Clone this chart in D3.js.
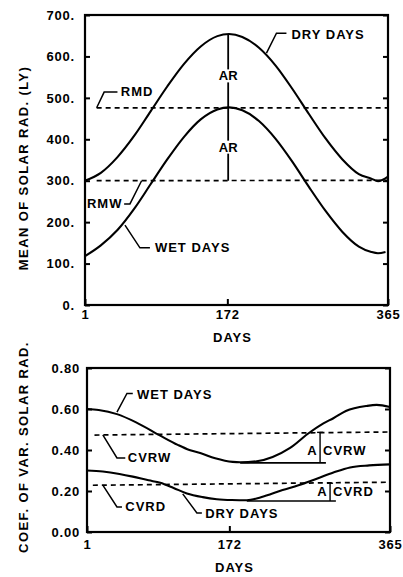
<!DOCTYPE html>
<html><head><meta charset="utf-8">
<script src="https://cdn.jsdelivr.net/npm/d3@7"></script>
<style>
body{margin:0;background:#fff}
svg text{font-family:"Liberation Sans",Arial,Helvetica,sans-serif;font-weight:bold;fill:#000}
</style></head><body>
<svg id="c" width="403" height="577"></svg>
<script>
// ---------- DATA ----------
// Top panel: mean daily solar radiation (langleys)
const topDryDays = [1,20,40,60,80,100,120,140,160,174,190,210,230,250,270,290,310,330,345,353,365];
const topDryMean = [300,319,357,408,468,528,582,624,649,654,647,621,578,522,461,402,352,316,305,299,310];
const topWetDays = [1,20,40,60,80,100,120,140,160,174,190,210,230,250,270,290,310,330,345,353,362];
const topWetMean = [118,144,181,232,292,352,406,448,472,477,470,444,401,346,285,227,177,141,128,125,128];
const rmdDays = [15,365], rmdVals = [476,476];
const rmwDays = [15,365], rmwVals = [300,301];
const arDay = 173;
const topYTicks = [0,100,200,300,400,500,600,700];
const topYLabels = ["0.","100.","200.","300.","400.","500.","600.","700."];
const xTicks = [1,172,365];
const xLabels = ["1","172","365"];

// Bottom panel: coefficient of variation of solar radiation
const cvWetDays = [1,15,37,60,89,110,124,137,155,176,185,205,224,245,266,285,297,312,337,349,365];
const cvWet     = [0.60,0.595,0.575,0.535,0.47,0.425,0.40,0.385,0.36,0.342,0.34,0.345,0.366,0.41,0.478,0.53,0.555,0.59,0.615,0.62,0.61];
const cvDryDays = [1,20,40,56,75,89,105,121,140,157,175,193,210,236,255,277,297,317,340,365];
const cvDry     = [0.30,0.295,0.283,0.27,0.252,0.24,0.215,0.188,0.17,0.16,0.156,0.155,0.17,0.205,0.228,0.26,0.29,0.315,0.325,0.33];
const cvrwDays = [10,365], cvrwVals = [0.473,0.488];
const cvrdDays = [8,365],  cvrdVals = [0.228,0.243];
const botYTicks = [0,0.2,0.4,0.6,0.8];
const botYLabels = ["0.00","0.20","0.40","0.60","0.80"];

// Annotation leaders (data units: [day, value])
const topNotes = [
  {label:"DRY DAYS", pts:[[219,608],[231,656],[243,656]], at:[249,652], anchor:"start"},
  {label:"RMD", pts:[[15,476],[24,514],[40,514]], at:[44,516], anchor:"start"},
  {label:"RMW", pts:[[69,300],[55,244],[48,244]], at:[46,246], anchor:"end"},
  {label:"WET DAYS", pts:[[49,193],[67,138],[79,138]], at:[85,138], anchor:"start"}
];
const botNotes = [
  {label:"WET DAYS", pts:[[37,0.585],[49,0.676],[56,0.676]], at:[61,0.672], anchor:"start"},
  {label:"CVRW", pts:[[20,0.474],[37,0.361],[47,0.361]], at:[50,0.361], anchor:"start"},
  {label:"CVRD", pts:[[20,0.229],[37,0.122],[43,0.122]], at:[47,0.122], anchor:"start"},
  {label:"DRY DAYS", pts:[[116,0.186],[133,0.093],[139,0.093]], at:[143,0.09], anchor:"start"}
];
const ampW = {from:185, to:288, low:0.337, barDay:281, hi:0.486, label:["A","CVRW"], at:[281,0.40]};
const ampD = {from:193, to:300, low:0.151, barDay:293, hi:0.238, label:["A","CVRD"], at:[293,0.20]};

// ---------- DRAW ----------
const svg = d3.select("#c");
svg.append("rect").attr("width",403).attr("height",577).attr("fill","#fff");

function panel(cfg){
  const {x,y} = cfg;
  const g = svg.append("g");
  const [x0,x1] = x.range(), [y0,y1] = y.range();
  const ax = d3.axisLeft(y).tickValues(cfg.yTicks).tickFormat((d,i)=>cfg.yLabels[i])
     .tickSizeInner(-5).tickSizeOuter(0).tickPadding(cfg.yPad);
  const gl = g.append("g").attr("transform",`translate(${x0},0)`).call(ax);
  const ar = d3.axisRight(y).tickValues(cfg.yTicks).tickFormat("").tickSizeInner(-5).tickSizeOuter(0);
  const gr = g.append("g").attr("transform",`translate(${x1},0)`).call(ar);
  const abx = d3.axisBottom(x).tickValues(xTicks).tickFormat((d,i)=>xLabels[i])
     .tickSizeInner(-6).tickSizeOuter(0).tickPadding(cfg.xPad);
  const gb = g.append("g").attr("transform",`translate(0,${y0})`).call(abx);
  [gl,gr,gb].forEach(a=>{
    a.select(".domain").remove();
    a.selectAll("line").attr("stroke","#000").attr("stroke-width",2);
    a.selectAll("text").attr("font-size",13).attr("letter-spacing",0.8)
      .style("font-family",'"Liberation Sans",Arial,sans-serif').style("font-weight","bold").attr("fill","#000");
  });
  g.append("rect").attr("x",x0).attr("y",y1).attr("width",x1-x0).attr("height",y0-y1)
   .attr("fill","none").attr("stroke","#000").attr("stroke-width",2.2);
  g.append("text").attr("x",(x0+x1)/2 - 4).attr("y",cfg.daysY)
   .attr("text-anchor","middle").attr("dominant-baseline","central")
   .attr("font-size",13).attr("letter-spacing",1).text("DAYS");
  g.append("text").attr("transform",`translate(${cfg.titleX},${cfg.titleY}) rotate(-90)`)
   .attr("text-anchor","middle").attr("dominant-baseline","central")
   .attr("font-size",13).attr("letter-spacing",1.4).text(cfg.title);
  return g;
}

function curve(g,x,y,days,vals,dashed){
  const line = d3.line().x(d=>x(d[0])).y(d=>y(d[1])).curve(dashed?d3.curveLinear:d3.curveMonotoneX);
  g.append("path").datum(days.map((d,i)=>[d,vals[i]])).attr("d",line)
   .attr("fill","none").attr("stroke","#000")
   .attr("stroke-width",dashed?1.7:2.1)
   .attr("stroke-dasharray",dashed?"5,4":null);
}

function notes(g,x,y,list){
  const line = d3.line().x(d=>x(d[0])).y(d=>y(d[1]));
  list.forEach(n=>{
    g.append("path").attr("d",line(n.pts)).attr("fill","none").attr("stroke","#000").attr("stroke-width",1.5);
    g.append("text").attr("x",x(n.at[0])).attr("y",y(n.at[1])).attr("text-anchor",n.anchor)
     .attr("dominant-baseline","central").attr("font-size",13).attr("letter-spacing",1).text(n.label);
  });
}

// ----- top panel -----
const xT = d3.scaleLinear().domain([1,365]).range([85,388]);
const yT = d3.scaleLinear().domain([0,700]).range([305,15]);
const gT = panel({x:xT,y:yT,yTicks:topYTicks,yLabels:topYLabels,yPad:10,xPad:5,daysY:337,
  titleX:23,titleY:168,title:"MEAN OF SOLAR RAD. (LY)"});
curve(gT,xT,yT,rmdDays,rmdVals,true);
curve(gT,xT,yT,rmwDays,rmwVals,true);
curve(gT,xT,yT,topDryDays,topDryMean,false);
curve(gT,xT,yT,topWetDays,topWetMean,false);
gT.append("line").attr("x1",xT(arDay)).attr("x2",xT(arDay))
  .attr("y1",yT(d3.max(topDryMean))).attr("y2",yT(rmwVals[0]))
  .attr("stroke","#000").attr("stroke-width",1.8);
[553,381].forEach(v=>{
  const bg = gT.append("rect").attr("fill","#fff");
  const t = gT.append("text").attr("x",xT(arDay)).attr("y",yT(v)).attr("text-anchor","middle")
    .attr("dominant-baseline","central").attr("font-size",13).text("AR");
  const b = t.node().getBBox();
  bg.attr("x",b.x-1).attr("y",b.y+1).attr("width",b.width+2).attr("height",b.height-2);
});
notes(gT,xT,yT,topNotes);

// ----- bottom panel -----
const xB = d3.scaleLinear().domain([1,365]).range([87,390]);
const yB = d3.scaleLinear().domain([0,0.8]).range([532,368]);
const gB = panel({x:xB,y:yB,yTicks:botYTicks,yLabels:botYLabels,yPad:7,xPad:8,daysY:567,
  titleX:23,titleY:447,title:"COEF. OF VAR. SOLAR RAD."});
curve(gB,xB,yB,cvrwDays,cvrwVals,true);
curve(gB,xB,yB,cvrdDays,cvrdVals,true);
curve(gB,xB,yB,cvWetDays,cvWet,false);
curve(gB,xB,yB,cvDryDays,cvDry,false);
notes(gB,xB,yB,botNotes);
[ampW,ampD].forEach(a=>{
  gB.append("line").attr("x1",xB(a.from)).attr("x2",xB(a.to)).attr("y1",yB(a.low)).attr("y2",yB(a.low))
    .attr("stroke","#000").attr("stroke-width",1.6);
  gB.append("line").attr("x1",xB(a.barDay)).attr("x2",xB(a.barDay)).attr("y1",yB(a.hi)).attr("y2",yB(a.low))
    .attr("stroke","#000").attr("stroke-width",1.4);
  gB.append("line").attr("x1",xB(a.barDay)-3).attr("x2",xB(a.barDay)+3).attr("y1",yB(a.hi)).attr("y2",yB(a.hi))
    .attr("stroke","#000").attr("stroke-width",1.4);
  const t = gB.append("text").attr("y",yB(a.at[1]))
    .attr("dominant-baseline","central").attr("font-size",13).attr("letter-spacing",1);
  const tA = t.append("tspan").text(a.label[0]);
  t.append("tspan").attr("x",xB(a.at[0])+3).text(a.label[1]);
  const aw = tA.node().getComputedTextLength();
  tA.attr("x",xB(a.at[0])-aw-2.5);
});
</script>
</body></html>
